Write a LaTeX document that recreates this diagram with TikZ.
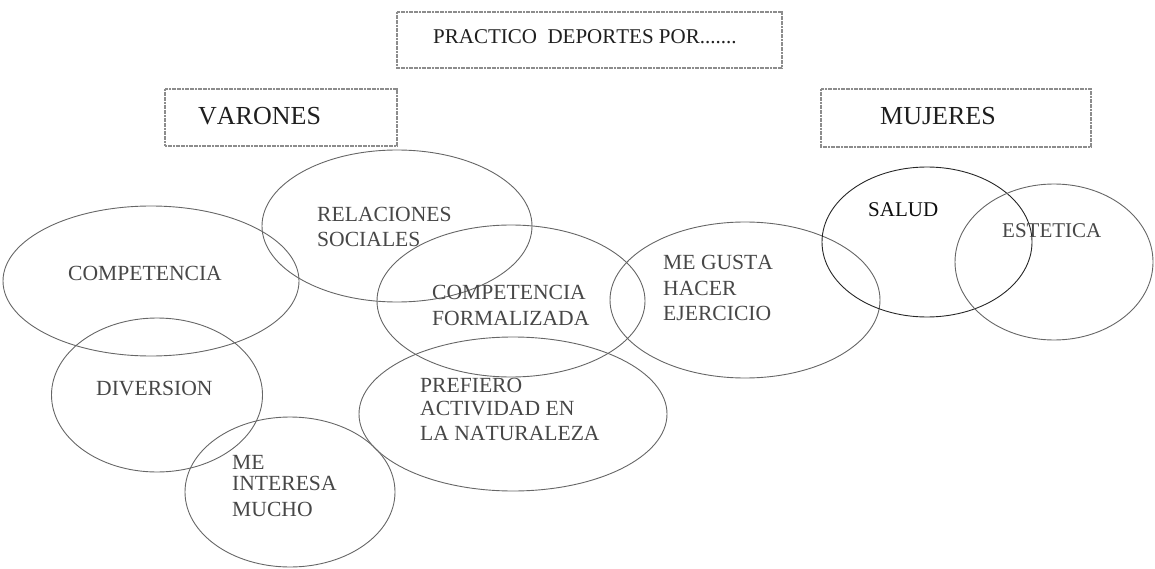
\documentclass[tikz,border=0pt]{standalone}
\usepackage{fontspec}
\setmainfont{Liberation Serif}[Kerning=Off]
\usetikzlibrary{shapes.geometric}
\tikzset{
  oval/.style={draw=black!60, line width=0.9pt, shape=ellipse, inner sep=0pt, outer sep=0pt},
  hbox/.style={draw=black!45, line width=1.6pt, dash pattern=on 2pt off 0.6pt},
  lbl/.style={anchor=base west, inner sep=0pt, text=black!72, font=\fontsize{21.6}{25}\selectfont},
  boxtext/.style={anchor=base west, inner sep=0pt, text=black!88},
}
\begin{document}
\begin{tikzpicture}[x=1pt,y=-1pt]
\useasboundingbox (0,0) rectangle (1155,569);
% header boxes
\draw[hbox] (397,12) rectangle (782,68);
\node[boxtext, font=\fontsize{21}{25}\selectfont] (title) at (433,43.6) {PRACTICO~ DEPORTES POR.......};
\draw[hbox] (165,89) rectangle (397,146);
\node[boxtext, font=\fontsize{26}{30}\selectfont] (varones) at (198,124.5) {VARONES};
\draw[hbox] (821,89) rectangle (1091,147);
\node[boxtext, font=\fontsize{26}{30}\selectfont] (mujeres) at (880,124.5) {MUJERES};
% ellipses
\node[oval, minimum width=296pt, minimum height=150pt] (comp) at (151,281) {};
\node[oval, minimum width=270pt, minimum height=152pt] (rel) at (397,226) {};
\node[oval, minimum width=268pt, minimum height=152pt] (form) at (511,301) {};
\node[oval, minimum width=270pt, minimum height=156pt] (gusta) at (745,300) {};
\node[oval, draw=black!85, minimum width=210pt, minimum height=150pt] (salud) at (927,242) {};
\node[oval, minimum width=198pt, minimum height=156pt] (estetica) at (1054,262) {};
\node[oval, minimum width=211pt, minimum height=154pt] (div) at (157,395) {};
\node[oval, minimum width=308pt, minimum height=154pt] (nat) at (513,414) {};
\node[oval, minimum width=210pt, minimum height=150pt] (interesa) at (290,492) {};
% labels
\node[lbl] (tcomp) at (68,280) {COMPETENCIA};
\node[lbl] (trel1) at (317,222) {RELACIONES};
\node[lbl] (trel2) at (317,247) {SOCIALES};
\node[lbl] (tform1) at (432,299) {COMPETENCIA};
\node[lbl] (tform2) at (432,325) {FORMALIZADA};
\node[lbl] (tgus1) at (663,269) {ME GUSTA};
\node[lbl] (tgus2) at (663,295) {HACER};
\node[lbl] (tgus3) at (663,320) {EJERCICIO};
\node[lbl, text=black!95, font=\fontsize{21}{25}\selectfont] (tsalud) at (868,217) {SALUD};
\node[lbl, font=\fontsize{21}{25}\selectfont] (test) at (1002,237) {ESTETICA};
\node[lbl] (tdiv) at (96,395) {DIVERSION};
\node[lbl] (tnat1) at (420,392) {PREFIERO};
\node[lbl] (tnat2) at (420,415) {ACTIVIDAD EN};
\node[lbl] (tnat3) at (420,440) {LA NATURALEZA};
\node[lbl] (tint1) at (232,469) {ME};
\node[lbl] (tint2) at (232,490) {INTERESA};
\node[lbl] (tint3) at (232,516) {MUCHO};
\end{tikzpicture}
\end{document}
